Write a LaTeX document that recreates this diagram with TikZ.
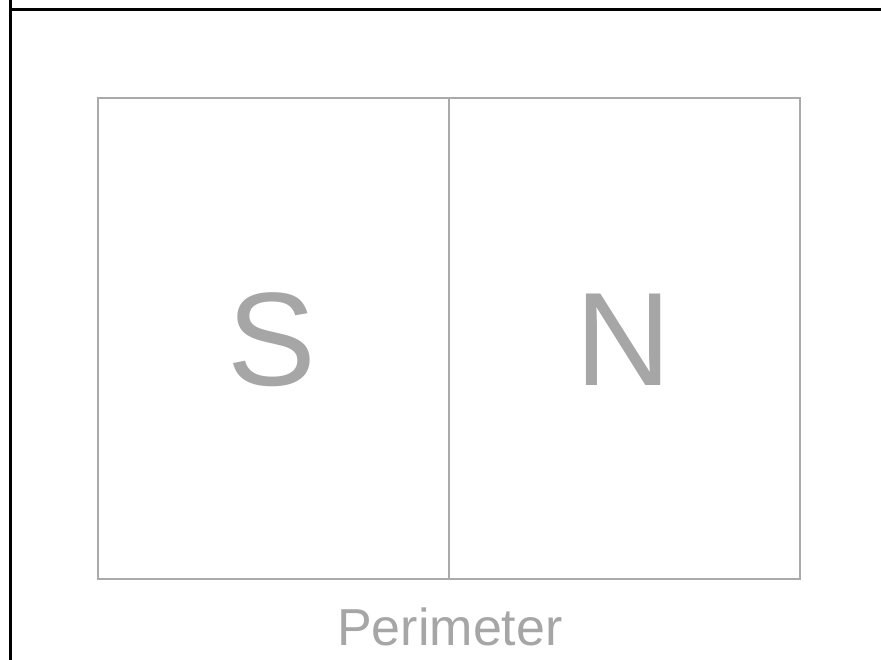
\documentclass[tikz,border=0pt]{standalone}
\usepackage{fontspec}
\setmainfont{Liberation Sans}
\definecolor{linegray}{RGB}{170,170,170}
\definecolor{textgray}{RGB}{166,166,166}

\begin{document}
\begin{tikzpicture}[
    x=1pt,
    y=1pt,
    frame/.style={draw=black,line width=3pt},
    zone/.style={draw=linegray,line width=2.2pt},
    polelabel/.style={text=textgray,font=\fontsize{133}{133}\selectfont,inner sep=0pt},
    sidelabel/.style={text=textgray,font=\fontsize{52}{52}\selectfont,inner sep=0pt}
]
\useasboundingbox (0,0) rectangle (881,660);

% Outer frame, cut by the page edge.
\draw[frame] (10,661) -- (10,650) -- (882,650);
\draw[frame] (10,650) -- (10,-1);

% Magnet halves.
\coordinate (ll) at (98,81);
\coordinate (ur) at (800,562);
\draw[zone] (ll) rectangle (ur);
\draw[zone] (449,81) -- (449,562);

% Labels.
\node[polelabel] (south) at (272,320) {S};
\node[polelabel] (north) at (624,320) {N};
\node[sidelabel] (perimeter) at (450,33) {Perimeter};

\end{tikzpicture}
\end{document}
